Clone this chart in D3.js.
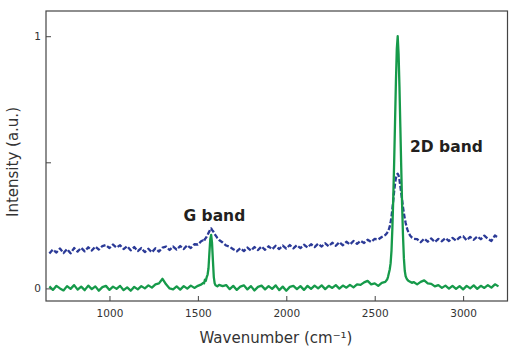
<!DOCTYPE html>
<html>
<head>
<meta charset="utf-8">
<script src="https://cdn.jsdelivr.net/npm/d3@7"></script>
<style>
  html, body { margin: 0; padding: 0; background: #fff; }
  svg { display: block; font-family: "DejaVu Sans", Verdana, sans-serif; }
</style>
</head>
<body>
<svg id="chart" width="529" height="355"></svg>
<script>
// ---- data ----
const wavenumber = [
  660,680,700,720,740,760,780,800,820,840,860,880,900,920,940,960,980,1000,1020,1040,1060,1080,1100,1120,1140,1160,1180,1200,1220,1240,1260,1280,1300,1320,1340,1360,1380,1400,1420,1440,1460,1480,1500,1520,
  1530,1535,1540,1545,1550,1555,1560,1565,1570,1575,1580,1585,1590,1595,1600,1610,1620,
  1640,1660,1680,1700,1720,1740,1760,1780,1800,1820,1840,1860,1880,1900,1920,1940,1960,1980,2000,2020,2040,2060,2080,2100,2120,2140,2160,2180,2200,2220,2240,2260,2280,2300,2320,2340,2360,2380,2400,2420,2440,2460,2480,2500,2520,2540,2560,
  2570,2575,2580,2585,2590,2595,2600,2605,2610,2615,2620,2625,2630,2635,2640,2645,2650,2655,2660,2665,2670,2675,2680,2685,2690,2695,2700,2710,2720,
  2740,2760,2780,2800,2820,2840,2860,2880,2900,2920,2940,2960,2980,3000,3020,3040,3060,3080,3100,3120,3140,3160,3180,3200
];
const greenSeries = [
  0.008,-0.006,0.010,0.000,-0.008,0.009,-0.002,0.013,-0.005,0.007,-0.007,0.011,-0.003,0.008,-0.009,0.005,0.010,-0.006,0.007,-0.002,0.010,-0.007,0.004,-0.009,0.006,-0.004,0.009,0.000,0.012,0.003,0.016,0.020,0.038,0.016,0.000,-0.004,0.008,-0.005,0.009,-0.001,0.011,0.002,0.010,0.016,
  0.022,0.020,0.035,0.030,0.045,0.055,0.080,0.140,0.195,0.212,0.180,0.110,0.045,0.020,0.012,0.008,0.014,
  0.009,0.013,-0.003,0.010,-0.006,0.007,0.012,-0.004,0.009,-0.008,0.006,0.011,-0.004,0.009,-0.002,0.012,-0.007,0.007,-0.009,0.006,0.010,-0.003,0.009,-0.006,0.010,-0.002,0.011,0.000,0.012,-0.003,0.010,0.002,0.013,-0.001,0.011,0.003,0.014,0.004,0.016,0.014,0.024,0.030,0.016,0.020,0.010,0.022,0.026,
  0.035,0.045,0.060,0.075,0.100,0.150,0.240,0.360,0.500,0.660,0.820,0.950,1.000,0.930,0.800,0.640,0.480,0.330,0.210,0.120,0.070,0.048,0.040,0.034,0.030,0.028,0.026,0.022,0.025,
  0.016,0.026,0.032,0.020,0.018,0.008,0.013,0.002,0.011,-0.001,0.010,-0.002,0.009,-0.004,0.010,0.000,0.012,-0.002,0.010,0.002,0.013,0.003,0.016,0.008
];
const blueSeries = [
  0.138,0.154,0.142,0.158,0.140,0.156,0.139,0.160,0.146,0.161,0.147,0.163,0.150,0.166,0.154,0.168,0.172,0.160,0.174,0.162,0.171,0.156,0.167,0.151,0.164,0.148,0.160,0.144,0.157,0.143,0.159,0.146,0.162,0.166,0.152,0.166,0.154,0.168,0.156,0.171,0.160,0.175,0.174,0.188,
  0.190,0.186,0.196,0.200,0.205,0.212,0.220,0.226,0.234,0.238,0.232,0.228,0.222,0.216,0.210,0.200,0.192,
  0.182,0.170,0.165,0.155,0.147,0.159,0.148,0.162,0.150,0.164,0.152,0.166,0.153,0.167,0.155,0.169,0.156,0.170,0.158,0.172,0.159,0.171,0.160,0.173,0.162,0.175,0.164,0.177,0.166,0.179,0.167,0.181,0.169,0.183,0.171,0.185,0.174,0.188,0.177,0.189,0.180,0.193,0.184,0.196,0.194,0.204,0.212,
  0.220,0.226,0.235,0.245,0.262,0.285,0.315,0.350,0.385,0.415,0.438,0.450,0.455,0.448,0.430,0.405,0.378,0.350,0.322,0.298,0.277,0.260,0.245,0.233,0.224,0.216,0.210,0.202,0.197,
  0.195,0.183,0.197,0.185,0.198,0.184,0.196,0.187,0.199,0.188,0.200,0.189,0.202,0.207,0.191,0.204,0.193,0.206,0.195,0.209,0.197,0.188,0.210,0.199
];
const xTicks = [1000, 1500, 2000, 2500, 3000];
const yTicks = [0, 0.5, 1];
const yTickLabels = ["0", "", "1"];
const annotations = [
  { text: "G band", x: 1593, y: 0.268, anchor: "middle" },
  { text: "2D band", x: 2700, y: 0.54, anchor: "start" }
];

// ---- layout ----
const svg = d3.select("#chart");
const L = 46, R = 507.5, T = 11, B = 301;
const x = d3.scaleLinear().domain([641, 3251]).range([L, R]);
const y = d3.scaleLinear().domain([-0.05, 1.1]).range([B, T]);

const greenData = wavenumber.map((w, i) => [w, greenSeries[i]]);
const blueData = wavenumber.map((w, i) => [w, blueSeries[i]]);

const line = d3.line().x(d => x(d[0])).y(d => y(d[1]));

// blue dashed series
svg.append("path")
  .datum(blueData)
  .attr("d", line)
  .attr("fill", "none")
  .attr("stroke", "#2b3a97")
  .attr("stroke-width", 2.3)
  .attr("stroke-dasharray", "5,2")
  .attr("stroke-linejoin", "round");

// green solid series
svg.append("path")
  .datum(greenData)
  .attr("d", line)
  .attr("fill", "none")
  .attr("stroke", "#169a4a")
  .attr("stroke-width", 2.3)
  .attr("stroke-linejoin", "round");

// frame
svg.append("rect")
  .attr("x", L).attr("y", T)
  .attr("width", R - L).attr("height", B - T)
  .attr("fill", "none")
  .attr("stroke", "#444")
  .attr("stroke-width", 1.2);

// axes
const xAxis = d3.axisBottom(x).tickValues(xTicks).tickSizeInner(-5).tickSizeOuter(0).tickPadding(9).tickFormat(d3.format("d"));
const gx = svg.append("g").attr("transform", `translate(0,${B})`).call(xAxis);
gx.select(".domain").remove();
gx.selectAll(".tick line").attr("stroke", "#444");
gx.selectAll(".tick text").attr("fill", "#333").style("font-size", "10.5px").style("font-family", "'DejaVu Sans', Verdana, sans-serif");

const yAxis = d3.axisLeft(y).tickValues(yTicks).tickSizeInner(-5).tickSizeOuter(0).tickPadding(5)
  .tickFormat((d, i) => yTickLabels[i]);
const gy = svg.append("g").attr("transform", `translate(${L},0)`).call(yAxis);
gy.select(".domain").remove();
gy.selectAll(".tick line").attr("stroke", "#444");
gy.selectAll(".tick text").attr("fill", "#333").style("font-size", "10.5px").style("font-family", "'DejaVu Sans', Verdana, sans-serif");

// axis titles
svg.append("text")
  .attr("x", 276).attr("y", 343)
  .attr("text-anchor", "middle")
  .attr("fill", "#333")
  .style("font-size", "15px")
  .text("Wavenumber (cm\u207B\u00B9)");

svg.append("text")
  .attr("transform", "translate(17.5,162) rotate(-90)")
  .attr("text-anchor", "middle")
  .attr("fill", "#333")
  .style("font-size", "15px")
  .text("Intensity (a.u.)");

// annotations
svg.selectAll(".ann")
  .data(annotations)
  .enter().append("text")
  .attr("class", "ann")
  .attr("x", d => x(d.x))
  .attr("y", d => y(d.y))
  .attr("text-anchor", d => d.anchor)
  .attr("fill", "#231f20")
  .style("font-size", "15.5px")
  .style("font-weight", "bold")
  .text(d => d.text);
</script>
</body>
</html>
